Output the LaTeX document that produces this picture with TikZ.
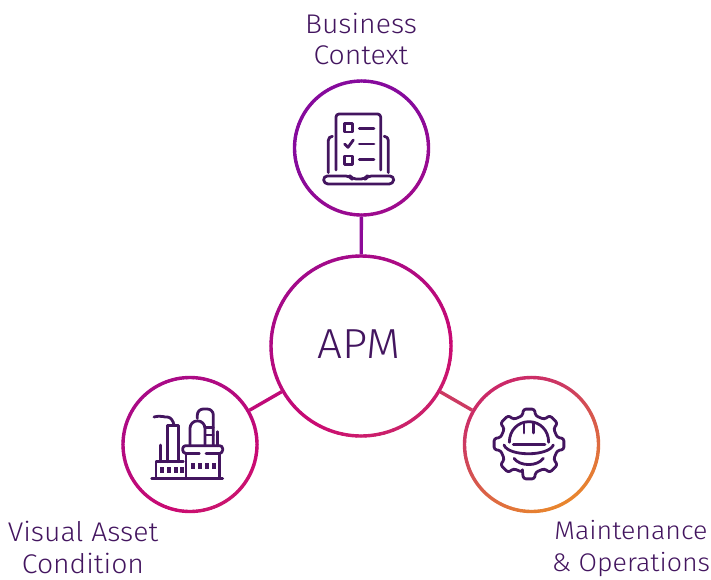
\documentclass[tikz,border=0pt]{standalone}
\usepackage{fontspec}
\usetikzlibrary{calc}
\setmainfont[FakeStretch=1.05]{Fira Sans Light}
\definecolor{inkc}{HTML}{43155F}
\definecolor{gA}{HTML}{860A9C}
\definecolor{gB}{HTML}{CA0A72}
\definecolor{gC}{HTML}{CC3A62}
\definecolor{gD}{HTML}{E8852E}
\newcommand{\gradcolor}[2]{%
  \pgfmathsetmacro{\tval}{0.5*(#1)+0.85*(#2)}%
  \pgfmathtruncatemacro{\seg}{\tval<520?1:(\tval<610?2:3)}%
  \ifnum\seg=1
    \pgfmathsetmacro{\pp}{max(0,min(100,(\tval-290)/230*100))}\colorlet{ringc}{gB!\pp!gA}%
  \else\ifnum\seg=2
    \pgfmathsetmacro{\pp}{(\tval-520)/90*100}\colorlet{ringc}{gC!\pp!gB}%
  \else
    \pgfmathsetmacro{\pp}{min(100,(\tval-610)/100*100)}\colorlet{ringc}{gD!\pp!gC}%
  \fi\fi}
\newcommand{\gradring}[3]{%
  \foreach \ang in {0,3,...,357}{%
    \pgfmathsetmacro{\xa}{#1+#3*cos(\ang)}%
    \pgfmathsetmacro{\ya}{#2+#3*sin(\ang)}%
    \pgfmathsetmacro{\xb}{#1+#3*cos(\ang+3)}%
    \pgfmathsetmacro{\yb}{#2+#3*sin(\ang+3)}%
    \gradcolor{\xa}{\ya}%
    \draw[ringline,draw=ringc] (\xa,\ya) -- (\xb,\yb);}}
\tikzset{
  hub/.style={circle,inner sep=0pt,minimum size=#1,draw=none},
  ringline/.style={line width=3.4pt,line cap=round},
  link/.style={line width=3.4pt},
  icon/.style={draw=inkc,line width=2.8pt,line cap=round,line join=round,fill=none},
  label/.style={text=inkc,align=center,font=\fontsize{27}{31.5}\selectfont,inner sep=0pt},
  labelsmall/.style={text=inkc,align=center,font=\fontsize{25.5}{31.5}\selectfont,inner sep=0pt},
  iconscope/.style={x=0.3333pt,y=-0.3333pt}
}
\begin{document}
\begin{tikzpicture}[x=1pt,y=-1pt]
\useasboundingbox (0,0) rectangle (711,579);
\node[hub=183pt] (ncenter) at (361,346) {};
\node[hub=137pt] (ntop) at (361.5,148) {};
\node[hub=137pt] (nleft) at (190,444.5) {};
\node[hub=137pt] (nright) at (531.5,444.5) {};
\draw[link,draw=gA!90!gB] (ntop) -- (ncenter);
\draw[link,draw=gB!85!gA] (nleft) -- (ncenter);
\draw[link,draw=gC] (nright) -- (ncenter);
\gradring{361}{346}{90}
\gradring{361.5}{148}{67}
\gradring{190}{444.5}{67}
\gradring{531.5}{444.5}{67}
\node[text=inkc,font=\fontsize{42}{42}\selectfont,inner sep=0pt] (tapm) at (359,344) {APM};
\node[label] (ttop) at (361,39) {Business\\Context};
\node[label] (tleft) at (83,547.5) {Visual Asset\\Condition};
\node[labelsmall] (tright) at (631,548.5) {Maintenance\\\&\ Operations};
% laptop
\begin{scope}[shift={(280,70)},iconscope]
\draw[icon,rounded corners=3pt] (168,300) -- (168,132) -- (302,132) -- (302,300);
\draw[icon] (193,161) rectangle (218,186);
\draw[icon] (193,258) rectangle (218,284);
\draw[icon] (238,176) -- (282,176) (238,222) -- (282,222) (238,268) -- (282,268);
\draw[icon] (194,222) -- (204,232) -- (220,210);
\draw[icon,rounded corners=4pt] (145,308) -- (145,199) -- (157,199);
\draw[icon,rounded corners=4pt] (325,308) -- (325,199) -- (313,199);
\draw[icon,rounded corners=4pt] (130,318) -- (210,318) -- (216,327) -- (256,327) -- (262,318) -- (342,318) -- (340,342) -- (132,342) -- cycle;
\end{scope}
% factory
\begin{scope}[shift={(110,365)},iconscope]
\draw[icon] (125,340) -- (338,340);
\draw[icon] (138,340) -- (138,290) -- (220,290);
\draw[icon] (228,340) -- (228,266);
\draw[icon] (328,340) -- (328,266) -- (288,266);
\draw[icon] (228,266) -- (268,266);
\draw[icon,rounded corners=3pt] (232,266) -- (218,264) -- (218,242) -- (338,242) -- (338,264) -- (328,266);
\draw[icon] (152,290) -- (152,240);
\draw[icon] (172,290) -- (172,182) -- (205,182) -- (205,290);
\draw[icon] (132,156) .. controls (155,150) and (165,158) .. (172,156) .. controls (182,156) and (190,168) .. (192,180);
\draw[icon] (240,242) -- (240,190) arc[start angle=180,end angle=360,radius=22.5] -- (285,242);
\draw[icon,rounded corners=6pt] (262,160) -- (262,132) -- (310,132) -- (310,240);
\draw[icon] (285,188) -- (310,188) (288,210) -- (310,210);
\draw[icon] (322,242) -- (322,200);
\foreach \wx in {150,171,191,211}{\fill[inkc] (\wx,305) rectangle ++(12,18);}
\foreach \wx in {244,265,285,305}{\fill[inkc] (\wx,295) rectangle ++(12,18);}
\end{scope}
% gear
\begin{scope}[shift={(450,365)},iconscope]
\draw[icon,rounded corners=2.5pt] ($(237,237)+(103:87)$)
  \foreach \tooth in {90,45,0,-45,-90,-135,-180,-225}{
    -- ($(237,237)+(\tooth+13:87)$) -- ($(237,237)+(\tooth+9:106)$) -- ($(237,237)+(\tooth-9:106)$) -- ($(237,237)+(\tooth-13:87)$)
  } -- cycle;
\draw[icon] (178,232) .. controls (178,195) and (205,170) .. (237,170) .. controls (269,170) and (296,195) .. (296,232);
\draw[icon] (222,174) -- (222,204) (250,174) -- (250,204);
\draw[icon] (190,238) -- (285,238);
\draw[icon] (162,240) .. controls (175,275) and (295,275) .. (310,240);
\draw[icon] (192,280) .. controls (210,305) and (262,305) .. (280,280);
\end{scope}
\end{tikzpicture}
\end{document}
